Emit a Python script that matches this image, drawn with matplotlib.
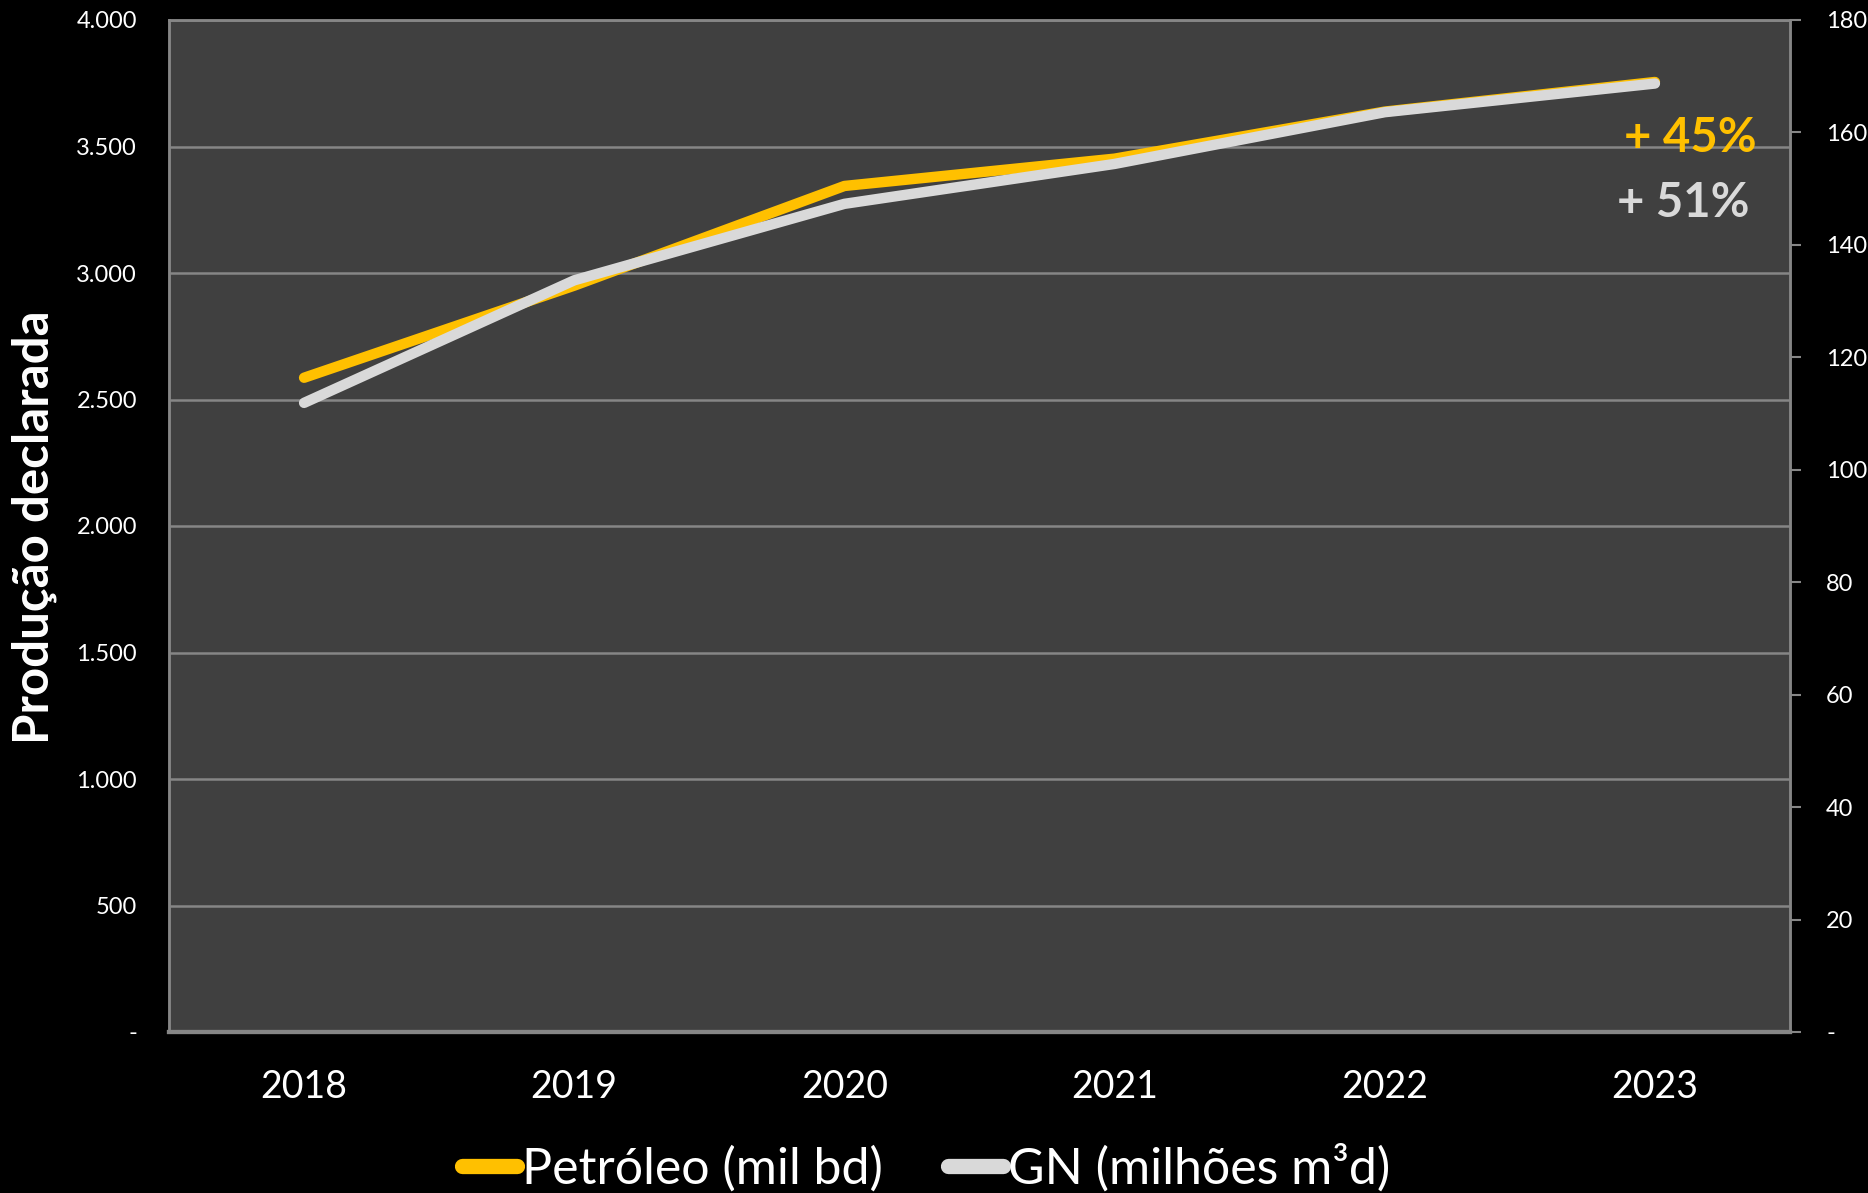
import matplotlib
matplotlib.use("Agg")
import matplotlib.pyplot as plt
from matplotlib.ticker import FuncFormatter, MultipleLocator
from matplotlib.lines import Line2D

years = ["2018", "2019", "2020", "2021", "2022", "2023"]
petroleo = [2586, 2950, 3344, 3452, 3638, 3755]   # mil bd (left axis)
gn = [111.9, 133.7, 147.3, 154.4, 163.6, 168.7]   # milhões m³d (right axis)
label_pet = "Petróleo (mil bd)"
label_gn = "GN (milhões m³d)"
ylabel = "Produção declarada"
pct_pet = "+ 45%"
pct_gn = "+ 51%"

YEL = "#FFC000"
GRY = "#D9D9D9"
GRID = "#868686"
FONT = "Lato"

plt.rcParams["font.family"] = [FONT, "DejaVu Sans"]

fig = plt.figure(figsize=(18.68, 11.93), dpi=100, facecolor="black")
ax = fig.add_axes([169/1868, 1-1032/1193, (1790-169)/1868, (1032-20)/1193])
ax.set_facecolor("#404040")
ax2 = ax.twinx()

x = list(range(len(years)))
ax.plot(x, petroleo, color=YEL, lw=7.5, solid_capstyle="round", solid_joinstyle="round", zorder=3)
ax2.plot(x, gn, color=GRY, lw=7.5, solid_capstyle="round", solid_joinstyle="round", zorder=3)

ax.set_xlim(-0.5, len(years)-0.5)
ax.set_ylim(0, 4000)
ax2.set_ylim(0, 180)
ax.yaxis.set_major_locator(MultipleLocator(500))
ax2.yaxis.set_major_locator(MultipleLocator(20))

def fmt_left(v, pos):
    if abs(v) < 1e-9:
        return "-"
    return f"{int(round(v)):,}".replace(",", ".")

def fmt_right(v, pos):
    if abs(v) < 1e-9:
        return "-"
    return f"{int(round(v))}"

ax.yaxis.set_major_formatter(FuncFormatter(fmt_left))
ax2.yaxis.set_major_formatter(FuncFormatter(fmt_right))

ax.set_xticks(x)
ax.set_xticklabels(years)
ax.tick_params(axis="x", length=0, pad=27, labelsize=27, labelcolor="white")
ax.tick_params(axis="y", length=0, pad=23, labelsize=17, labelcolor="white")
ax2.tick_params(axis="y", length=8, width=1.5, color=GRID, pad=18, labelsize=17, labelcolor="white", direction="out")

ax.grid(axis="y", color=GRID, lw=1.8, zorder=1)
ax.set_axisbelow(True)
for a in (ax, ax2):
    for s in a.spines.values():
        s.set_color(GRID)
        s.set_linewidth(1.8)
ax.spines["bottom"].set_linewidth(3)
ax2.spines["bottom"].set_linewidth(3)

fig.text(34/1868, 1-527/1193, ylabel, rotation=90, ha="center", va="center",
         color="white", fontsize=35.5, fontweight="bold")

ax.text(0.9797, 0.8696, pct_pet, transform=ax.transAxes, ha="right", va="baseline",
        color=YEL, fontsize=34, fontweight="bold")
ax.text(0.9753, 0.8053, pct_gn, transform=ax.transAxes, ha="right", va="baseline",
        color=GRY, fontsize=34, fontweight="bold")

handles = [Line2D([], [], color=YEL, lw=11, solid_capstyle="round"),
           Line2D([], [], color=GRY, lw=11, solid_capstyle="round")]
leg = fig.legend(handles, [label_pet, label_gn], loc="center", bbox_to_anchor=(0.496, 0.021),
                 ncol=2, frameon=False, fontsize=36, handlelength=1.1, handletextpad=0.1,
                 columnspacing=1.3, labelcolor="white")

fig.savefig("out.png", dpi=100, facecolor="black")
